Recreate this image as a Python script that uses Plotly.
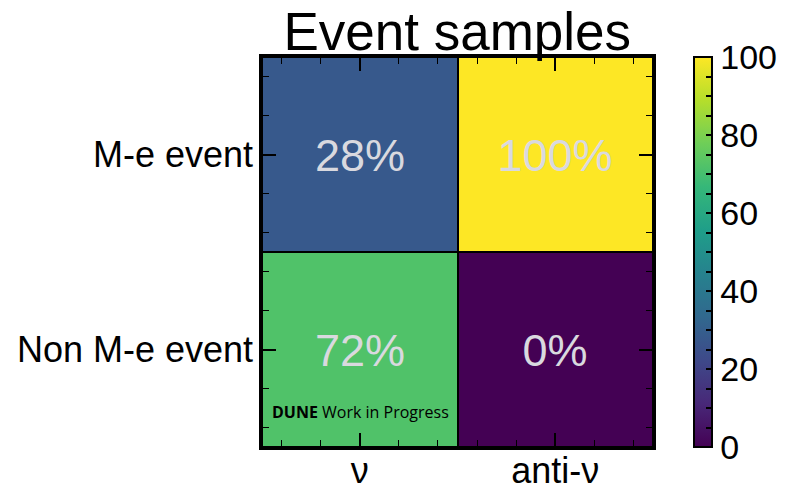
import plotly.graph_objects as go

# Daten
x_labels = ["ν", "anti-ν"]
y_labels = ["Non M-e event", "M-e event"]
nu_values = [72, 28]        # Anteil (%) fuer nu, von unten nach oben
antinu_values = [0, 100]    # Anteil (%) fuer anti-nu
cbar_ticks = list(range(0, 101, 5))

z = [[nu_values[i], antinu_values[i]] for i in range(len(y_labels))]
text = [[f"{v}%" for v in row] for row in z]

FONT = "Liberation Sans, Arial"

fig = go.Figure()
fig.add_trace(
    go.Heatmap(
        x=[0, 1],
        y=[0, 1],
        z=z,
        text=text,
        texttemplate="%{text}",
        textfont=dict(size=45, color="#d9d9df", family=FONT),
        colorscale="Viridis",
        zmin=0,
        zmax=100,
        xgap=2,
        ygap=2,
        hoverinfo="skip",
        colorbar=dict(
            x=1.106,
            xanchor="left",
            xpad=0,
            y=0.5,
            ypad=0,
            len=1.0,
            thickness=18,
            outlinecolor="black",
            outlinewidth=2,
            tickvals=cbar_ticks,
            ticktext=[str(v) if v % 20 == 0 else "" for v in cbar_ticks],
            ticks="inside",
            ticklen=7,
            tickwidth=1.5,
            tickcolor="black",
            tickfont=dict(size=34, color="black", family=FONT),
        ),
    )
)

axis_common = dict(
    showline=True,
    linecolor="black",
    linewidth=2.5,
    mirror="allticks",
    ticks="inside",
    ticklen=14,
    tickwidth=1.5,
    tickcolor="black",
    showgrid=False,
    zeroline=False,
    range=[-0.5, 1.5],
    minor=dict(ticks="inside", dtick=0.2, tick0=0, ticklen=7, tickwidth=1.2, tickcolor="black", showgrid=False),
)

fig.update_xaxes(
    **axis_common,
    tickvals=[0, 1],
    ticktext=x_labels,
    ticklabelstandoff=-10,
    tickfont=dict(size=36, color="black", family=FONT),
)
fig.update_yaxes(
    **axis_common,
    tickvals=[0, 1],
    ticktext=y_labels,
    ticklabelstandoff=-1,
    tickfont=dict(size=36, color="black", family=FONT),
)

fig.add_annotation(
    text="<b>DUNE</b> Work in Progress",
    xref="paper",
    yref="paper",
    x=0.02,
    y=0.09,
    xanchor="left",
    yanchor="middle",
    showarrow=False,
    font=dict(size=16, color="black", family="Open Sans, Noto Sans"),
)

fig.update_layout(
    title=dict(
        text="Event samples",
        x=0.576,
        xanchor="center",
        y=0.952,
        yanchor="middle",
        font=dict(size=53, color="black", family=FONT),
    ),
    width=780,
    height=480,
    margin=dict(l=254, r=135, t=49, b=41, autoexpand=False),
    paper_bgcolor="white",
    plot_bgcolor="black",
)

fig.write_html("out.html")
